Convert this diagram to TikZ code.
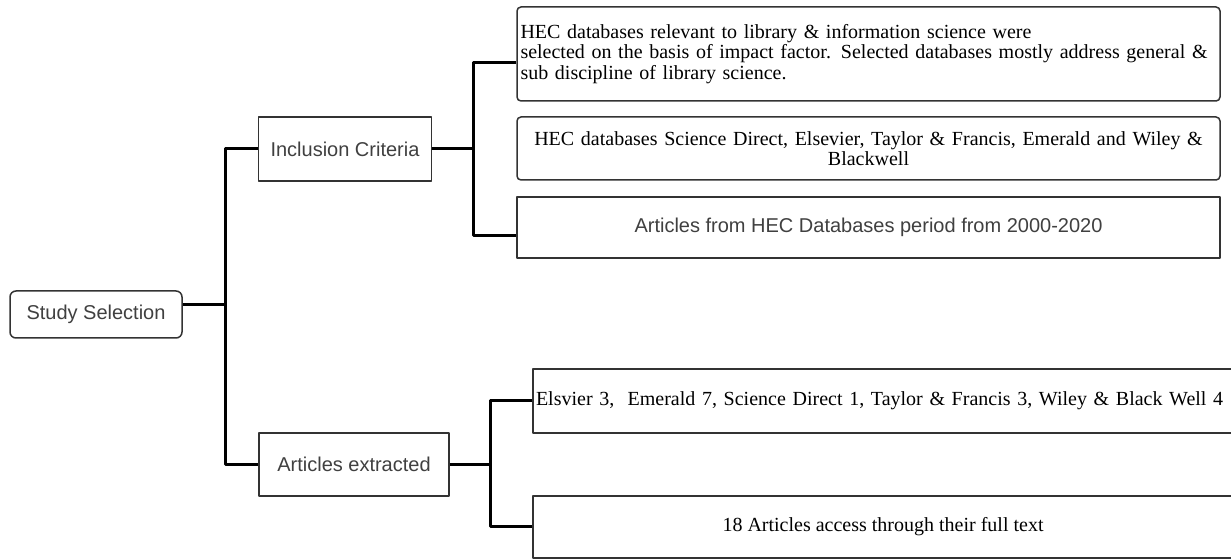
\documentclass[tikz,border=0pt]{standalone}
\usepackage{fontspec}
\setmainfont{Liberation Sans}
\newfontfamily\tnr{Liberation Serif}
\begin{document}
\begin{tikzpicture}[x=0.5pt,y=-0.5pt, font=\fontsize{10}{12}\selectfont, line join=round,
 box/.style={draw=black!80, line width=0.75pt, fill=white, text=black!75, inner sep=1.5pt},
 dbbox/.style={box, text=black, font=\tnr\fontsize{10}{9}\selectfont},
 conn/.style={line width=1.5pt, black}]
 \useasboundingbox (0,0) rectangle (1231,560);
 % left column
 \node[box, rounded corners=3pt, minimum width=86pt, minimum height=23.5pt] (ss) at (96,314.5) {Study Selection};
 \node[box, minimum width=86.5pt, minimum height=32pt] (ic) at (345,149) {Inclusion Criteria};
 \node[box, minimum width=95pt, minimum height=31.5pt] (ae) at (354,464.5) {Articles extracted};
 % right column
 \node[dbbox, font=\tnr\fontsize{10}{8.5}\selectfont, rounded corners=2pt, minimum width=351.5pt, minimum height=47pt, text width=348pt, align=left] (b1) at (868.5,54)
 {HEC databases relevant to library \& information science were\\selected on the basis of impact factor. Selected databases mostly address general \&\\sub discipline of library science.};
 \node[dbbox, rounded corners=2pt, minimum width=351.5pt, minimum height=31.5pt, text width=345pt, align=center] (b2) at (868.5,148.5)
 {HEC databases Science Direct, Elsevier, Taylor \& Francis, Emerald and Wiley \&\\Blackwell};
 \node[box, minimum width=351.5pt, minimum height=30.5pt] (b3) at (868.5,227.5) {Articles from HEC Databases period from 2000-2020};
 \node[dbbox, minimum width=350pt, minimum height=32pt, text width=347pt, align=left] (b4) at (883,401)
 {\mbox{Elsvier 3,\ \ Emerald 7, Science Direct 1, Taylor \& Francis 3, Wiley \& Black Well 4}};
 \node[dbbox, minimum width=350pt, minimum height=31pt] (b5) at (883,527) {18 Articles access through their full text};
 % connectors
 \coordinate (j1) at (225,305);
 \coordinate (j2) at (473,149);
 \coordinate (j3) at (490,464.5);
 \draw[conn] (ss.east |- j1) -- (j1);
 \draw[conn] (ic.west) -| (j1) |- (ae.west);
 \draw[conn] (ic.east) -- (j2);
 \draw[conn] ([yshift=-4.5pt]b1.west) -| (j2) |- ([yshift=-4.25pt]b3.west);
 \draw[conn] (ae.east) -- (j3);
 \draw[conn] (b4.west) -| (j3) |- (b5.west);
\end{tikzpicture}
\end{document}
